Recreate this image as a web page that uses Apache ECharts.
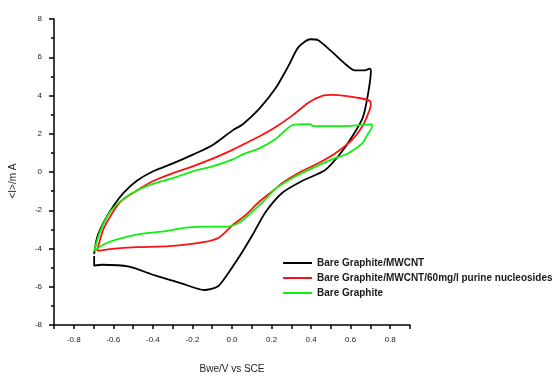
<!DOCTYPE html>
<html>
<head>
<meta charset="utf-8">
<script src="https://cdn.jsdelivr.net/npm/echarts@6/dist/echarts.min.js"></script>
<style>
html,body{margin:0;padding:0;background:#fff;}
#chart{width:560px;height:379px;}
</style>
</head>
<body>
<div id="chart"></div>
<script>
// Series names (legend)
const seriesNames = [
  'Bare Graphite/MWCNT',
  'Bare Graphite/MWCNT/60mg/l purine nucleosides',
  'Bare Graphite'
];
const seriesColors = ['#000000', '#ff1010', '#10f010'];

// Axis labels
const xAxisName = 'Bwe/V vs SCE';
const yAxisName = '<I>/m A';

// Bare Graphite/MWCNT loop: [potential V, current]
const mwcntLoop = [
  [-0.697,-4.29],[-0.682,-3.42],[-0.647,-2.60],[-0.596,-1.73],[-0.546,-1.07],
  [-0.481,-0.46],[-0.396,0.05],[-0.296,0.46],[-0.195,0.92],[-0.095,1.43],
  [0.005,2.19],[0.055,2.50],[0.135,3.27],[0.221,4.39],[0.286,5.56],
  [0.336,6.53],[0.396,6.94],[0.436,6.89],[0.506,6.28],[0.571,5.66],
  [0.622,5.31],[0.672,5.31],[0.697,5.41],[0.702,5.26],
  [0.687,4.03],[0.662,2.86],[0.622,2.09],[0.556,1.07],[0.471,0.10],
  [0.356,-0.46],[0.256,-1.07],[0.170,-2.09],[0.105,-3.27],[0.055,-4.13],
  [0.020,-4.69],[-0.020,-5.31],[-0.070,-5.97],[-0.140,-6.17],[-0.256,-5.82],
  [-0.390,-5.41],[-0.520,-4.95],[-0.657,-4.85],[-0.697,-4.90],[-0.697,-4.39]
];

// Bare Graphite/MWCNT/60mg/l purine nucleosides loop
const purineLoop = [
  [-0.682,-4.13],[-0.647,-2.91],[-0.566,-1.58],[-0.481,-0.97],[-0.396,-0.46],
  [-0.296,-0.05],[-0.195,0.31],[-0.095,0.71],[0.005,1.17],[0.055,1.43],
  [0.135,1.84],[0.221,2.35],[0.306,2.96],[0.386,3.62],[0.456,3.98],
  [0.506,4.03],[0.571,3.98],[0.637,3.88],[0.697,3.72],[0.702,3.52],
  [0.687,3.01],[0.657,2.35],[0.607,1.68],[0.521,0.97],[0.436,0.46],
  [0.336,-0.05],[0.256,-0.56],[0.221,-0.87],[0.135,-1.58],[0.070,-2.24],
  [0.005,-2.76],[-0.065,-3.42],[-0.145,-3.67],[-0.316,-3.88],[-0.481,-3.93],
  [-0.617,-4.03],[-0.682,-4.13]
];

// Bare Graphite loop
const graphiteLoop = [
  [-0.697,-4.13],[-0.667,-3.11],[-0.617,-2.09],[-0.546,-1.38],[-0.481,-0.97],
  [-0.396,-0.61],[-0.296,-0.31],[-0.195,0.05],[-0.095,0.31],[0.005,0.66],
  [0.055,0.92],[0.135,1.22],[0.221,1.73],[0.271,2.19],[0.306,2.45],
  [0.396,2.50],[0.411,2.40],[0.556,2.40],[0.707,2.50],[0.707,2.35],
  [0.687,1.99],[0.657,1.48],[0.586,0.97],[0.506,0.66],[0.406,0.20],
  [0.306,-0.31],[0.221,-0.87],[0.155,-1.58],[0.085,-2.24],[0.035,-2.65],
  [-0.030,-2.86],[-0.095,-2.86],[-0.231,-2.91],[-0.346,-3.11],[-0.481,-3.27],
  [-0.581,-3.52],[-0.647,-3.78],[-0.697,-4.13]
];

const loops = [mwcntLoop, purineLoop, graphiteLoop];

const chart = echarts.init(document.getElementById('chart'), null, {renderer: 'canvas'});
const font = 'Liberation Sans, Arial, sans-serif';

chart.setOption({
  animation: false,
  backgroundColor: '#ffffff',
  grid: {left: 52, right: 150, top: 19, bottom: 45, containLabel: false},
  legend: {
    orient: 'vertical',
    left: 278,
    top: 253,
    icon: 'rect',
    itemWidth: 29,
    itemHeight: 2,
    itemGap: 5,
    data: seriesNames,
    textStyle: {fontFamily: font, fontSize: 10, fontWeight: 'bold', lineHeight: 10, color: '#1a1a1a'}
  },
  xAxis: {
    type: 'value',
    min: -0.9, max: 0.9, interval: 0.1,
    name: xAxisName,
    nameLocation: 'middle',
    nameGap: 39,
    nameTextStyle: {fontFamily: font, fontSize: 10, color: '#222'},
    axisLine: {show: true, onZero: false, lineStyle: {color: '#000', width: 1.5}},
    axisTick: {show: true, inside: false, length: 4, lineStyle: {color: '#000', width: 1.5}},
    axisLabel: {
      fontFamily: font, fontSize: 8, color: '#222', margin: 11,
      formatter: function (v) {
        const t = Math.round(v * 10);
        if (t % 2 !== 0 || Math.abs(t) === 9) return '';
        return (t / 10).toFixed(1);
      }
    },
    splitLine: {show: false}
  },
  yAxis: {
    type: 'value',
    min: -8, max: 8, interval: 2,
    name: yAxisName,
    nameLocation: 'middle',
    nameRotate: 90,
    nameGap: 36,
    nameTextStyle: {fontFamily: font, fontSize: 10, color: '#222', padding: [0, 18, 0, 0]},
    axisLine: {show: true, onZero: false, lineStyle: {color: '#000', width: 1.5}},
    axisTick: {show: true, inside: false, length: 5, lineStyle: {color: '#000', width: 1.5}},
    minorTick: {show: true, splitNumber: 2, length: 3, lineStyle: {color: '#000', width: 1.5}},
    axisLabel: {fontFamily: font, fontSize: 8, color: '#222', margin: 12},
    splitLine: {show: false}
  },
  series: seriesNames.map(function (name, i) {
    return {
      name: name,
      type: 'line',
      data: loops[i],
      showSymbol: false,
      smooth: 0.25,
      color: seriesColors[i],
      lineStyle: {color: seriesColors[i], width: 1.8}
    };
  })
});
</script>
</body>
</html>
